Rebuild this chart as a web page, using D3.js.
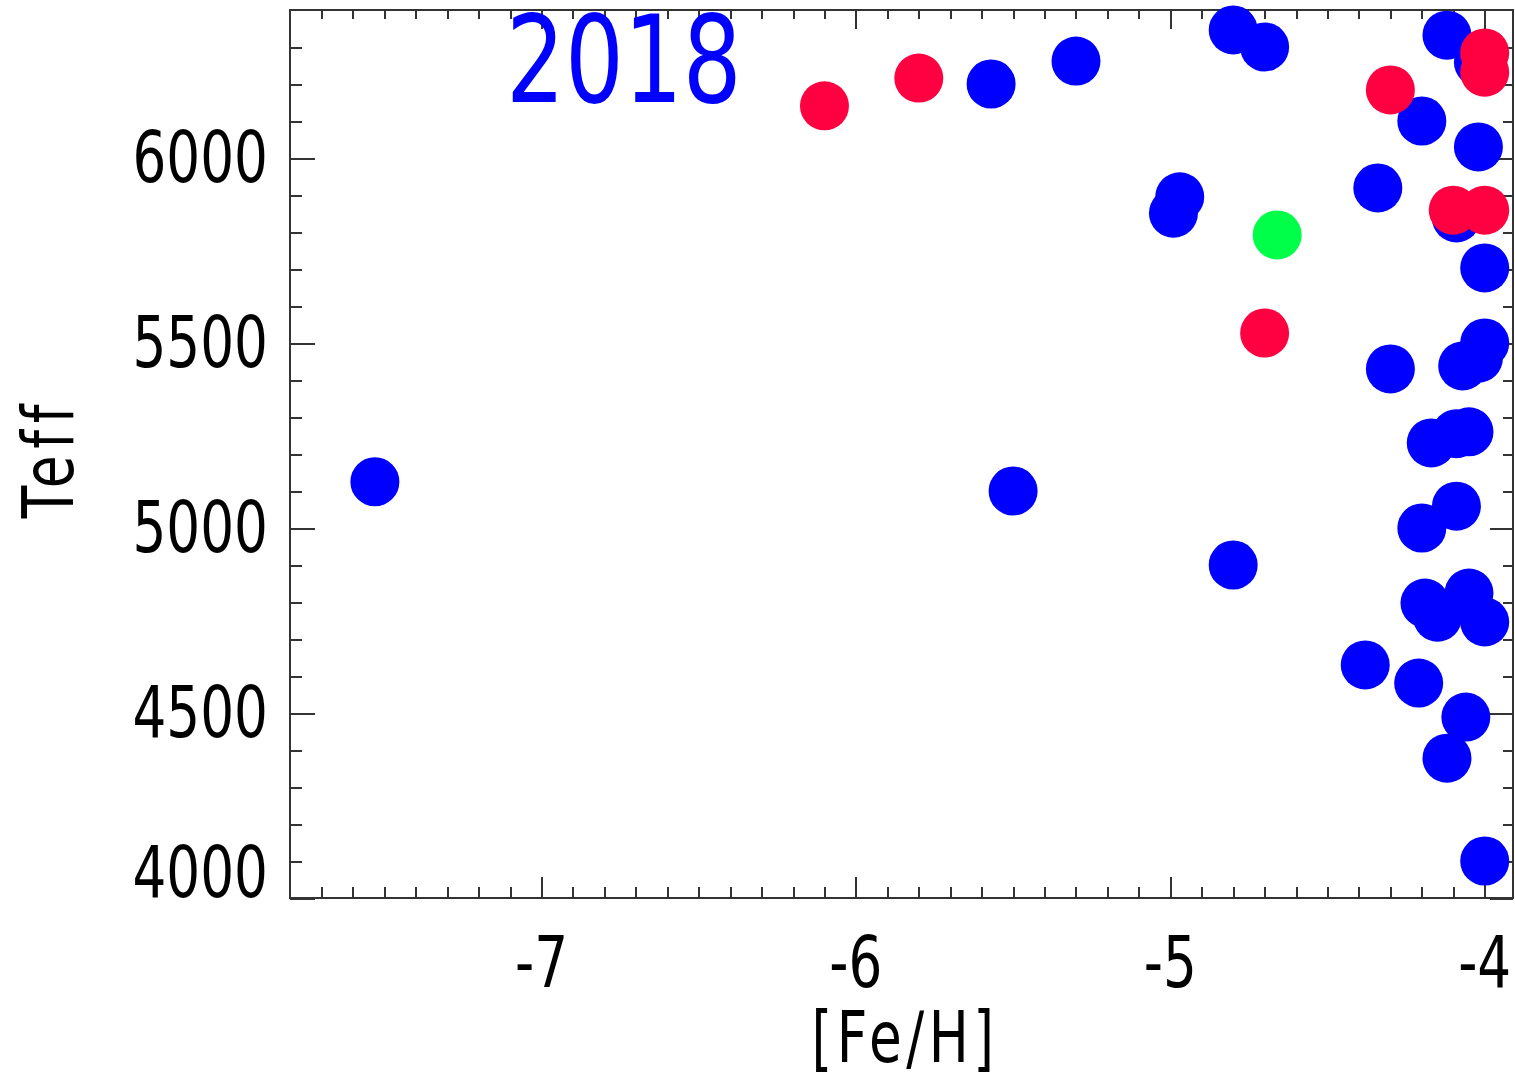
<!DOCTYPE html>
<html lang="en">
<head>
    <meta charset="UTF-8">
    <title>Teff vs [Fe/H] 2018</title>
    <script src="https://cdn.jsdelivr.net/npm/d3@7"></script>
    <style>
        body { margin: 0; background: #fff; }
        .axis line { stroke: #333; stroke-width: 2; shape-rendering: crispEdges; }
        .axis path { display: none; }
        .lbl { font-family: 'DejaVu Sans'; font-size: 71px; fill: #000; }
    </style>
</head>
<body>
<svg id="img" width="1515" height="1075"></svg>
<script>
    // blue stars
    var blueFeH  = [-7.53, -5.50, -4.80, -5.57, -5.30, -4.80, -4.70, -4.12, -4.02, -4.20,
                    -4.02, -4.34, -4.97, -4.99, -4.09, -4.00, -4.30, -4.00, -4.07, -4.02,
                    -4.17, -4.09, -4.05, -4.20, -4.09, -4.19, -4.15, -4.05, -4.00, -4.38,
                    -4.21, -4.06, -4.12, -4.00];
    var blueTeff = [5125, 5100, 4900, 6200, 6262, 6346, 6300, 6332, 6259, 6100,
                    6030, 5919, 5895, 5851, 5838, 5703, 5430, 5500, 5438, 5459,
                    5230, 5255, 5260, 5000, 5059, 4797, 4759, 4824, 4746, 4630,
                    4581, 4489, 4378, 4100];
    // red stars
    var redFeH  = [-6.10, -5.80, -4.70, -4.30, -4.00, -4.00, -4.10, -4.00];
    var redTeff = [6141, 6216, 5527, 6184, 6284, 6232, 5859, 5859];
    // green star
    var greenFeH  = [-4.66];
    var greenTeff = [5792];

    var xTicks = [-7, -6, -5, -4];
    var yTicks = [4000, 4500, 5000, 5500, 6000];
    var title = "2018";

    var vis = d3.select("#img"),
        LEFT = 290, RIGHT = 1513, TOP = 10, BOTTOM = 898,
        R = 24.5,
        SX = 0.75;

    var xRange = d3.scaleLinear().domain([-7.8, -3.91]).range([LEFT, RIGHT]);
    var yRange = d3.scaleLinear().domain([4000, 6400]).range([BOTTOM, TOP]);

    var xMinor = d3.range(-77, -39).map(function (d) { return d / 10; })
        .filter(function (d) { return Math.abs(d - Math.round(d)) > 1e-6; });
    var yMinor = d3.range(41, 64).map(function (d) { return d * 100; })
        .filter(function (d) { return d % 500 !== 0; });

    function addAxis(axisFn, scale, values, size, transform) {
        vis.append("g")
            .attr("class", "axis")
            .attr("transform", transform)
            .call(axisFn(scale).tickValues(values).tickSizeInner(size).tickSizeOuter(0).tickFormat(""));
    }

    // ticks point inward on all four sides
    addAxis(d3.axisBottom, xRange, xTicks, -21, "translate(0," + BOTTOM + ")");
    addAxis(d3.axisBottom, xRange, xMinor, -11, "translate(0," + BOTTOM + ")");
    addAxis(d3.axisTop, xRange, xTicks, -19, "translate(0," + TOP + ")");
    addAxis(d3.axisTop, xRange, xMinor, -9, "translate(0," + TOP + ")");
    addAxis(d3.axisLeft, yRange, yTicks, -25, "translate(" + LEFT + ",0)");
    addAxis(d3.axisLeft, yRange, yMinor, -12, "translate(" + LEFT + ",0)");
    addAxis(d3.axisRight, yRange, yTicks, -23, "translate(" + RIGHT + ",0)");
    addAxis(d3.axisRight, yRange, yMinor, -10, "translate(" + RIGHT + ",0)");

    vis.append("rect")
        .attr("x", LEFT).attr("y", TOP)
        .attr("width", RIGHT - LEFT).attr("height", BOTTOM - TOP)
        .attr("fill", "none").attr("stroke", "#333").attr("stroke-width", 2);

    // tick labels
    vis.selectAll(".xlab").data(xTicks).enter().append("text")
        .attr("class", "lbl")
        .attr("text-anchor", "middle")
        .attr("transform", function (d) { return "translate(" + xRange(d) + ",987) scale(" + SX + ",1)"; })
        .text(function (d) { return String(d); });

    // the lowest label sits on the bottom edge, so it is raised to end at the axis
    vis.selectAll(".ylab").data(yTicks).enter().append("text")
        .attr("class", "lbl")
        .attr("text-anchor", "end")
        .attr("transform", function (d) {
            var y = Math.min(yRange(d) + 24, BOTTOM - 1);
            return "translate(268," + y + ") scale(" + SX + ",1)";
        })
        .text(function (d) { return d; });

    // axis titles
    vis.append("text")
        .attr("class", "lbl")
        .attr("text-anchor", "middle")
        .attr("font-size", "70px")
        .attr("letter-spacing", "6px")
        .attr("transform", "translate(905,1062) scale(" + SX + ",1)")
        .text("[Fe/H]");

    vis.append("text")
        .attr("class", "lbl")
        .attr("text-anchor", "middle")
        .attr("font-size", "70px")
        .attr("letter-spacing", "9px")
        .attr("transform", "translate(73,458) rotate(-90) scale(" + SX + ",1)")
        .text("Teff");

    vis.append("text")
        .attr("font-family", "DejaVu Sans")
        .attr("font-size", "121px")
        .attr("fill", "#0000ff")
        .attr("transform", "translate(506,102) scale(0.765,1)")
        .text(title);

    function drawDots(xs, ys, color) {
        vis.append("g").selectAll("circle")
            .data(xs.map(function (v, i) { return { x: v, y: ys[i] }; }))
            .enter().append("circle")
            .attr("cx", function (d) { return xRange(d.x); })
            .attr("cy", function (d) { return yRange(d.y); })
            .attr("r", R)
            .attr("fill", color);
    }

    drawDots(blueFeH, blueTeff, "#0000ff");
    drawDots(redFeH, redTeff, "#ff0040");
    drawDots(greenFeH, greenTeff, "#00ff48");
</script>
</body>
</html>
